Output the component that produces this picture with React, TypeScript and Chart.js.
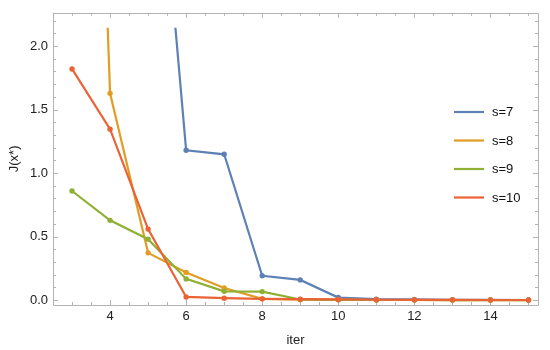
import React, { useEffect, useRef } from "react";
import { Chart, registerables } from "chart.js";

Chart.register(...registerables);

// ---- data ----
const iterations = [3, 4, 5, 6, 7, 8, 9, 10, 11, 12, 13, 14, 15];
const seriesLabels = ["s=7", "s=8", "s=9", "s=10"];
const s7Values: (number | null)[] = [null, null, 4.6, 1.18, 1.148, 0.192, 0.159, 0.02, 0.008, 0.005, 0.003, 0.002, 0.001];
const s8Values: (number | null)[] = [10, 1.628, 0.372, 0.218, 0.095, 0.01, 0.004, 0.002, 0.001, 0.001, 0.0005, 0.0003, 0.0002];
const s9Values: (number | null)[] = [0.859, 0.628, 0.48, 0.167, 0.069, 0.067, 0.005, 0.002, 0.001, 0.001, 0.0005, 0.0003, 0.0002];
const s10Values: (number | null)[] = [1.82, 1.346, 0.559, 0.025, 0.015, 0.01, 0.007, 0.005, 0.003, 0.002, 0.002, 0.001, 0.001];
const xTickValues = [4, 6, 8, 10, 12, 14];
const yTickValues = [0, 0.5, 1, 1.5, 2];
const xRange = [2.5, 15.25];
const yRange = [-0.0385, 2.262];
const xMinorStep = 0.5;
const yMinorStep = 0.1;

// ---- styles ----
const colors = ["#5E81B5", "#E19C24", "#8FB032", "#EB6235"];
const FONT = "'Liberation Sans', Arial, sans-serif";
const FRAME = "#b3b3b3";

const toPoints = (vals: (number | null)[]) =>
  vals
    .map((v, i) => (v == null ? null : { x: iterations[i], y: v }))
    .filter((p) => p !== null) as { x: number; y: number }[];

const framePlugin = {
  id: "mmaFrame",
  beforeDatasetsDraw(chart: any) {
    const { ctx, chartArea: a, scales } = chart;
    const xs = scales.x;
    const ys = scales.y;
    ctx.save();
    ctx.strokeStyle = FRAME;
    ctx.lineWidth = 1;
    ctx.beginPath();
    ctx.rect(Math.round(a.left) + 0.5, Math.round(a.top) + 0.5, Math.round(a.right - a.left), Math.round(a.bottom - a.top));
    ctx.stroke();
    const isMajor = (v: number, list: number[]) => list.some((t) => Math.abs(t - v) < 1e-6);
    ctx.beginPath();
    const x0 = Math.ceil(xs.min / xMinorStep) * xMinorStep;
    for (let v = x0; v <= xs.max + 1e-9; v += xMinorStep) {
      const px = Math.round(xs.getPixelForValue(v)) + 0.5;
      const len = isMajor(v, xTickValues) ? 5 : 3;
      ctx.moveTo(px, a.bottom);
      ctx.lineTo(px, a.bottom - len);
      ctx.moveTo(px, a.top);
      ctx.lineTo(px, a.top + len);
    }
    const y0 = Math.ceil(ys.min / yMinorStep) * yMinorStep;
    for (let v = y0; v <= ys.max + 1e-9; v += yMinorStep) {
      const py = Math.round(ys.getPixelForValue(v)) + 0.5;
      const len = isMajor(Math.round(v * 10) / 10, yTickValues) ? 5 : 3;
      ctx.moveTo(a.left, py);
      ctx.lineTo(a.left + len, py);
      ctx.moveTo(a.right, py);
      ctx.lineTo(a.right - len, py);
    }
    ctx.stroke();
    ctx.restore();
  },
};

const legendPlugin = {
  id: "insideLegend",
  afterDraw(chart: any) {
    const { ctx } = chart;
    ctx.save();
    ctx.font = `13px ${FONT}`;
    ctx.textBaseline = "middle";
    ctx.textAlign = "left";
    chart.data.datasets.forEach((ds: any, i: number) => {
      const y = 112 + i * 28.5;
      ctx.strokeStyle = ds.borderColor;
      ctx.lineWidth = 2.2;
      ctx.beginPath();
      ctx.moveTo(454, y);
      ctx.lineTo(484, y);
      ctx.stroke();
      ctx.fillStyle = "#111";
      ctx.fillText(ds.label, 492, y + 0.5);
    });
    ctx.restore();
  },
};

export default function App() {
  const ref = useRef<HTMLCanvasElement | null>(null);
  useEffect(() => {
    if (!ref.current) return;
    const series = [s7Values, s8Values, s9Values, s10Values];
    const chart = new Chart(ref.current, {
      type: "line",
      data: {
        datasets: series.map((vals, i) => ({
          label: seriesLabels[i],
          data: toPoints(vals),
          borderColor: colors[i],
          backgroundColor: colors[i],
          pointBackgroundColor: colors[i],
          pointBorderWidth: 0,
          pointRadius: 2.7,
          borderWidth: 2.2,
          tension: 0,
          order: series.length - i,
          clip: { left: 8, right: 8, top: -15, bottom: 8 },
        })),
      },
      options: {
        animation: false,
        responsive: false,
        parsing: true,
        layout: { padding: { top: 6, right: 12, left: 0, bottom: 0 } },
        plugins: { legend: { display: false }, tooltip: { enabled: false } },
        scales: {
          x: {
            type: "linear",
            min: xRange[0],
            max: xRange[1],
            afterBuildTicks: (s: any) => {
              s.ticks = xTickValues.map((v) => ({ value: v }));
            },
            afterFit: (s: any) => {
              s.height = 45;
            },
            ticks: { font: { family: FONT, size: 13 }, color: "#222", padding: 4, callback: (v: any) => String(v) },
            grid: { display: false, drawTicks: false },
            border: { display: false },
            title: { display: true, text: "iter", font: { family: FONT, size: 13 }, color: "#222", padding: { top: 0, bottom: 2 } },
          },
          y: {
            type: "linear",
            min: yRange[0],
            max: yRange[1],
            afterBuildTicks: (s: any) => {
              s.ticks = yTickValues.map((v) => ({ value: v }));
            },
            afterFit: (s: any) => {
              s.width = 53;
            },
            ticks: { font: { family: FONT, size: 13 }, color: "#222", padding: 5, callback: (v: any) => Number(v).toFixed(1) },
            grid: { display: false, drawTicks: false },
            border: { display: false },
            title: { display: true, text: "J(x*)", font: { family: FONT, size: 13 }, color: "#222", padding: { top: 7, bottom: 0 } },
          },
        },
      },
      plugins: [framePlugin, legendPlugin],
    } as any);
    return () => chart.destroy();
  }, []);
  return (
    <div style={{ position: "fixed", left: 0, top: 0, width: 550, height: 350, background: "#fff" }}>
      <canvas ref={ref} width={550} height={350} style={{ width: 550, height: 350, display: "block" }} />
    </div>
  );
}
